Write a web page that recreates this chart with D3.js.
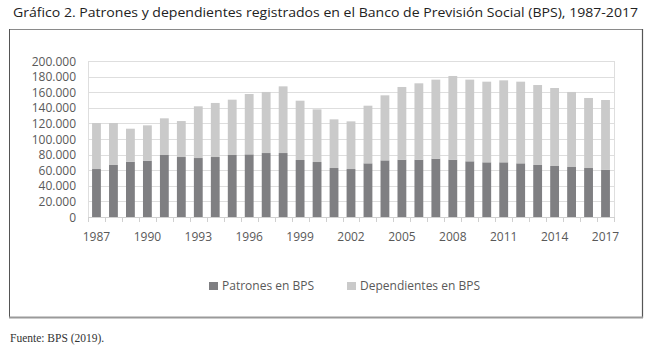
<!DOCTYPE html>
<html>
<head>
<meta charset="utf-8">
<script src="https://cdn.jsdelivr.net/npm/d3@7"></script>
<style>
  body { margin: 0; background: #fff; }
  svg text { font-family: "Open Sans", sans-serif; }
</style>
</head>
<body>
<div id="chart"></div>
<script>

var years = d3.range(1987, 2018);
var yearLabels = [1987, 1990, 1993, 1996, 1999, 2002, 2005, 2008, 2011, 2014, 2017];
var patrones = [61.5, 66.7, 70.9, 72.2, 79.5, 76.9, 75.6, 76.9, 79.5, 80.3, 82, 82, 73.1, 70.5,
                62.8, 61.5, 68.8, 72.6, 73.5, 73.5, 74.8, 73.5, 71.4, 70.1, 70.1, 68.8, 66.7, 65.4, 64.1, 62.8, 60.7];
var totales = [120.5, 120.5, 113.2, 117.5, 126.5, 123, 141.9, 146.2, 150.4, 157.7, 160.3, 167.5, 149.1, 138,
               125.2, 122.6, 142.7, 156, 166.7, 171.4, 176.1, 180.8, 176.1, 173.5, 175.2, 173.5, 169.2, 165.4, 160.3, 152.6, 150];
var yTicks = [0, 20000, 40000, 60000, 80000, 100000, 120000, 140000, 160000, 180000, 200000];
var seriesNames = ["Patrones en BPS", "Dependientes en BPS"];

var data = years.map(function(y, i) {
  return { year: y, pat: patrones[i] * 1000, dep: (totales[i] - patrones[i]) * 1000 };
});

var width = 650, height = 354;
var colorPat = "#7f7f82", colorDep = "#cacaca";

var svg = d3.select("#chart").append("svg")
  .attr("width", width)
  .attr("height", height);

// title
svg.append("text")
  .attr("x", 13).attr("y", 17)
  .attr("font-size", 13.5)
  .attr("fill", "#222")
  .attr("textLength", 625)
  .attr("lengthAdjust", "spacingAndGlyphs")
  .text("Gráfico 2. Patrones y dependientes registrados en el Banco de Previsión Social (BPS), 1987-2017");

// frame
svg.append("line").attr("x1", 9).attr("x2", 642).attr("y1", 29.5).attr("y2", 29.5)
  .attr("stroke", "#8a8a8a").attr("stroke-width", 1);
svg.append("line").attr("x1", 9.5).attr("x2", 9.5).attr("y1", 29).attr("y2", 318)
  .attr("stroke", "#555").attr("stroke-width", 1);
svg.append("line").attr("x1", 642.5).attr("x2", 642.5).attr("y1", 29).attr("y2", 318)
  .attr("stroke", "#555").attr("stroke-width", 1.2);
svg.append("line").attr("x1", 9).attr("x2", 643).attr("y1", 317.5).attr("y2", 317.5)
  .attr("stroke", "#9a9a9a").attr("stroke-width", 2);

var plotLeft = 88, plotRight = 614, plotTop = 61, plotBottom = 217;

var x = d3.scaleBand()
  .domain(years)
  .range([plotLeft, plotRight])
  .paddingInner(0.48)
  .paddingOuter(0.24);

var y = d3.scaleLinear()
  .domain([0, 200000])
  .range([plotBottom, plotTop]);

// gridlines
svg.append("g")
  .selectAll("line")
  .data(yTicks.slice(1))
  .enter().append("line")
  .attr("x1", plotLeft).attr("x2", plotRight)
  .attr("y1", function(d) { return Math.round(y(d)) + 0.5; })
  .attr("y2", function(d) { return Math.round(y(d)) + 0.5; })
  .attr("stroke", "#dedede");

svg.append("line").attr("x1", plotLeft + 0.5).attr("x2", plotLeft + 0.5).attr("y1", plotTop).attr("y2", plotBottom)
  .attr("stroke", "#dedede");
svg.append("line").attr("x1", plotRight + 0.5).attr("x2", plotRight + 0.5).attr("y1", plotTop).attr("y2", plotBottom)
  .attr("stroke", "#dedede");

// y labels
var fmt = function(d) { return d === 0 ? "0" : d3.format(",")(d).replace(/,/g, "."); };
svg.append("g")
  .selectAll("text")
  .data(yTicks)
  .enter().append("text")
  .attr("x", 76)
  .attr("y", function(d) { return y(d) + 4.5; })
  .attr("text-anchor", "end")
  .attr("font-size", 12)
  .attr("fill", "#595959")
  .text(fmt);

// bars
var stacked = d3.stack().keys(["pat", "dep"])(data);
var colors = [colorPat, colorDep];

svg.append("g")
  .selectAll("g")
  .data(stacked)
  .enter().append("g")
  .attr("fill", function(d, i) { return colors[i]; })
  .selectAll("rect")
  .data(function(d) { return d; })
  .enter().append("rect")
  .attr("x", function(d) { return x(d.data.year); })
  .attr("width", x.bandwidth())
  .attr("y", function(d) { return y(d[1]); })
  .attr("height", function(d) { return y(d[0]) - y(d[1]); });

// x axis
svg.append("line").attr("x1", plotLeft).attr("x2", plotRight + 1).attr("y1", plotBottom + 0.5).attr("y2", plotBottom + 0.5)
  .attr("stroke", "#d0d0d0");
var step = x.step();
svg.append("g")
  .selectAll("line")
  .data(d3.range(years.length + 1))
  .enter().append("line")
  .attr("x1", function(i) { return Math.round(plotLeft + i * step) + 0.5; })
  .attr("x2", function(i) { return Math.round(plotLeft + i * step) + 0.5; })
  .attr("y1", plotBottom).attr("y2", plotBottom + 5)
  .attr("stroke", "#d0d0d0");

svg.append("g")
  .selectAll("text")
  .data(yearLabels)
  .enter().append("text")
  .attr("x", function(d) { return x(d) + x.bandwidth() / 2; })
  .attr("y", 241)
  .attr("text-anchor", "middle")
  .attr("font-size", 12)
  .attr("fill", "#595959")
  .text(function(d) { return d; });

// legend
var legendX = [209, 347];
var legend = svg.append("g")
  .selectAll("g")
  .data(seriesNames)
  .enter().append("g")
  .attr("transform", function(d, i) { return "translate(" + legendX[i] + ",282)"; });
legend.append("rect")
  .attr("width", 9).attr("height", 8)
  .attr("fill", function(d, i) { return colors[i]; });
legend.append("text")
  .attr("x", 13).attr("y", 8)
  .attr("font-size", 12)
  .attr("fill", "#595959")
  .text(function(d) { return d; });

// source
svg.append("text")
  .attr("x", 10).attr("y", 342)
  .style("font-family", "'Liberation Serif', serif")
  .attr("font-size", 11.5)
  .attr("fill", "#333")
  .text("Fuente: BPS (2019).");

</script>
</body>
</html>
